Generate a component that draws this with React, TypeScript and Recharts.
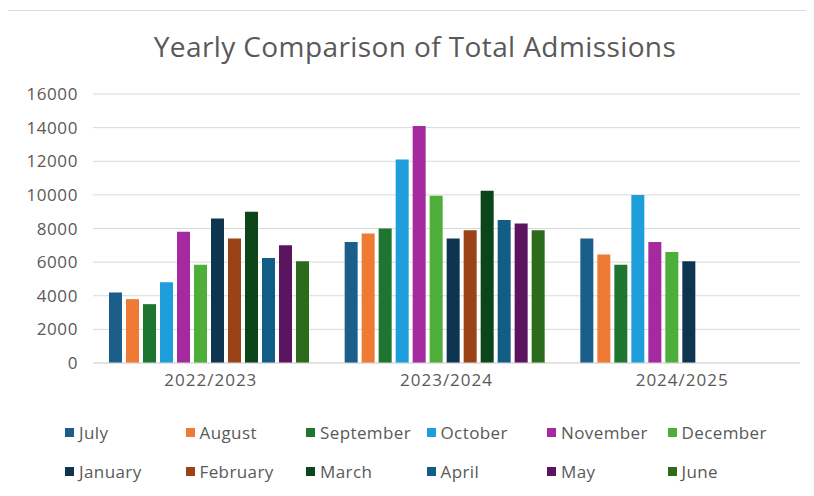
import React from 'react';
import { BarChart, Bar, XAxis, YAxis, CartesianGrid, Legend } from 'recharts';

const years = ['2022/2023', '2023/2024', '2024/2025'];

const months = [
  'July', 'August', 'September', 'October', 'November', 'December',
  'January', 'February', 'March', 'April', 'May', 'June',
];

const monthColors = [
  '#1B5E89', '#EE7A34', '#1D7530', '#1E9FDB', '#A52AA0', '#4DAE39',
  '#0D3550', '#9A4317', '#0C4519', '#125D86', '#5B145E', '#2C6B1C',
];

// admissions per month, one array per year
const admissions2223 = [4200, 3800, 3500, 4800, 7800, 5850, 8600, 7400, 9000, 6250, 7000, 6050];
const admissions2324 = [7200, 7700, 8000, 12100, 14100, 9950, 7400, 7900, 10250, 8500, 8300, 7900];
const admissions2425 = [7400, 6450, 5850, 10000, 7200, 6600, 6050, null, null, null, null, null];

const yTicks = [0, 2000, 4000, 6000, 8000, 10000, 12000, 14000, 16000];

const seriesByYear = [admissions2223, admissions2324, admissions2425];

const data = years.map((year, i) => {
  const row: Record<string, string | number | null> = { year };
  months.forEach((m, j) => {
    row[m] = seriesByYear[i][j];
  });
  return row;
});

const font = '"Open Sans", sans-serif';
const textGray = '#595959';

const renderLegend = () => (
  <div style={{ position: 'relative', width: 814, height: 80, fontFamily: font }}>
    {months.map((m, i) => {
      const col = i % 6;
      const row = Math.floor(i / 6);
      return (
        <div
          key={m}
          style={{
            position: 'absolute',
            left: 64 + col * 120.5,
            top: row * 39,
            height: 24,
            display: 'flex',
            alignItems: 'center',
            fontSize: 17,
            letterSpacing: 0.4,
            color: textGray,
            whiteSpace: 'nowrap',
          }}
        >
          <span style={{ width: 9, height: 9, background: monthColors[i], marginRight: 5, display: 'inline-block' }} />
          {m}
        </div>
      );
    })}
  </div>
);

export default function App() {
  return (
    <div style={{ position: 'relative', width: 814, height: 496, margin: -8, background: '#fff', overflow: 'hidden' }}>
      <div
        style={{
          position: 'absolute',
          left: 7,
          top: 10,
          width: 830,
          height: 500,
          border: '1px solid #dcdcdc',
        }}
      />
      <div
        style={{
          position: 'absolute',
          top: 27,
          left: 0,
          width: 830,
          textAlign: 'center',
          fontFamily: font,
          fontSize: 28,
          letterSpacing: 0.4,
          color: textGray,
        }}
      >
        Yearly Comparison of Total Admissions
      </div>
      <BarChart
        width={814}
        height={496}
        data={data}
        margin={{ top: 94, right: 14, left: 0, bottom: 103 }}
        barCategoryGap={16}
        barGap={4}
      >
        <CartesianGrid vertical={false} stroke="#d9d9d9" />
        <XAxis
          dataKey="year"
          height={30}
          axisLine={{ stroke: '#d9d9d9' }}
          tickLine={false}
          tickMargin={5}
          tick={{ fill: textGray, fontSize: 17, letterSpacing: 1, fontFamily: font }}
        />
        <YAxis
          width={93}
          domain={[0, 16000]}
          ticks={yTicks}
          axisLine={false}
          tickLine={false}
          tickMargin={9}
          tick={{ fill: textGray, fontSize: 17, letterSpacing: 0.6, fontFamily: font }}
        />
        <Legend
          layout="horizontal"
          verticalAlign="middle"
          align="center"
          content={renderLegend}
          wrapperStyle={{ top: 420, left: 1, width: 814 }}
        />
        {months.map((m, i) => (
          <Bar key={m} dataKey={m} fill={monthColors[i]} isAnimationActive={false} />
        ))}
      </BarChart>
    </div>
  );
}
